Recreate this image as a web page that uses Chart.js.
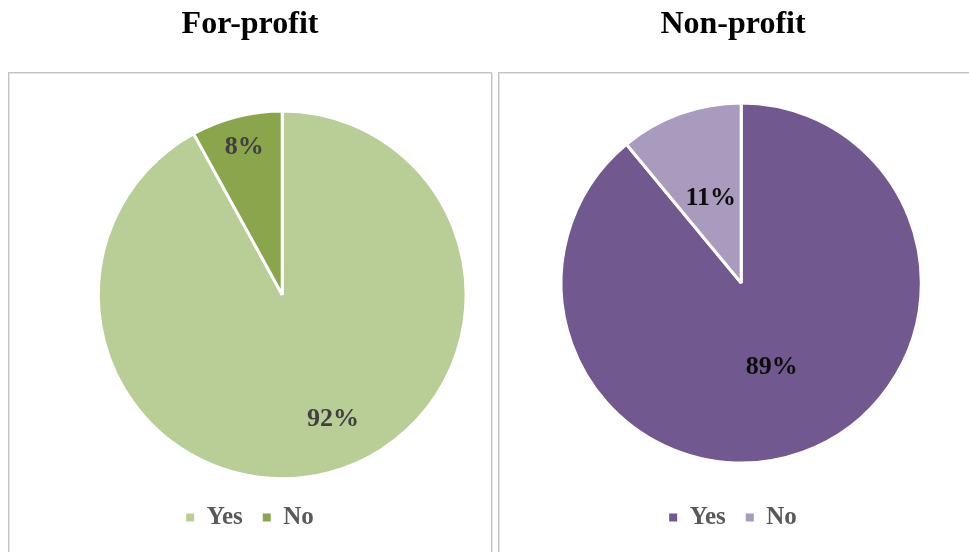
<!DOCTYPE html>
<html>
<head>
<meta charset="utf-8">
<script src="https://cdn.jsdelivr.net/npm/chart.js@4/dist/chart.umd.min.js"></script>
<style>
  html, body { margin: 0; padding: 0; background: #fff; width: 969px; height: 552px; overflow: hidden; position: relative; }
  .panel { position: absolute; top: 72px; height: 520px; border: 1px solid #c4c4c4; box-shadow: inset 1px 1px 0 #e4e4e4, 1px 1px 0 #e4e4e4; background: #fff; }
  .wrap { position: absolute; top: 0; }
</style>
</head>
<body>
<div class="panel" style="left:8px; width:482px;"></div>
<div class="panel" style="left:498px; width:480px;"></div>
<div class="wrap" style="left:0px; width:500px; height:540px;"><canvas id="c1"></canvas></div>
<div class="wrap" style="left:496px; width:474px; height:540px;"><canvas id="c2"></canvas></div>
<script>
const categories = ['Yes', 'No'];
const forProfitValues = [92, 8];
const nonProfitValues = [89, 11];
const chartTitles = ['For-profit', 'Non-profit'];
const forProfitColors = ['#b9cd96', '#8ba54c'];
const nonProfitColors = ['#71588f', '#a99bbd'];

const sliceLabels = {
  id: 'sliceLabels',
  afterDatasetsDraw(chart, args, opts) {
    const ctx = chart.ctx;
    const ds = chart.data.datasets[0];
    const total = ds.data.reduce((a, b) => a + b, 0);
    const meta = chart.getDatasetMeta(0);
    ctx.save();
    ctx.font = opts.font;
    ctx.fillStyle = opts.color;
    ctx.textAlign = 'center';
    ctx.textBaseline = 'middle';
    meta.data.forEach((arc, i) => {
      const p = arc.getProps(['x', 'y', 'startAngle', 'endAngle', 'outerRadius'], true);
      const pos = opts.pos[i];
      const mid = (p.startAngle + p.endAngle) / 2 + pos.da * Math.PI / 180;
      const r = p.outerRadius * pos.r;
      const txt = Math.round(ds.data[i] / total * 100) + '%';
      ctx.fillText(txt, p.x + Math.cos(mid) * r, p.y + Math.sin(mid) * r);
    });
    ctx.restore();
  }
};

function makeChart(id, title, values, colors, cfg) {
  return new Chart(document.getElementById(id), {
    type: 'pie',
    data: {
      labels: categories,
      datasets: [{ data: values, backgroundColor: colors, borderColor: '#ffffff', borderWidth: 3 }]
    },
    options: {
      responsive: true,
      maintainAspectRatio: false,
      animation: false,
      layout: { padding: { top: 0, left: 0, right: 0, bottom: 0 } },
      plugins: {
        tooltip: { enabled: false },
        title: {
          display: true,
          text: title,
          color: '#000000',
          font: { family: '"Liberation Serif", "Times New Roman", serif', size: 32, weight: 'bold' },
          padding: { top: 6, bottom: cfg.titleBottom }
        },
        subtitle: {
          display: true,
          position: 'left',
          text: ' ',
          font: { size: 12 },
          padding: { top: cfg.shift / 2, bottom: cfg.shift / 2 }
        },
        legend: {
          display: true,
          position: 'bottom',
          title: { display: true, text: ' ', font: { size: 2 }, padding: cfg.legendGap },
          labels: {
            boxWidth: 8,
            boxHeight: 8,
            padding: 20,
            color: '#595959',
            font: { family: '"Liberation Serif", "Times New Roman", serif', size: 25, weight: 'bold' },
            generateLabels(chart) {
              const items = Chart.overrides.pie.plugins.legend.labels.generateLabels(chart);
              items.forEach(it => { it.lineWidth = 0; it.strokeStyle = 'rgba(0,0,0,0)'; });
              return items;
            }
          }
        },
        sliceLabels: {
          font: 'bold 26px "Liberation Serif", "Times New Roman", serif',
          color: cfg.labelColor,
          pos: cfg.pos
        }
      }
    },
    plugins: [sliceLabels]
  });
}

makeChart('c1', chartTitles[0], forProfitValues, forProfitColors, {
  titleBottom: 65, shift: 50, legendGap: 1.2, labelColor: '#404040',
  pos: [{ r: 0.73, da: -7.8 }, { r: 0.83, da: 0 }]
});
makeChart('c2', chartTitles[1], nonProfitValues, nonProfitColors, {
  titleBottom: 57, shift: 2, legendGap: 9, labelColor: '#0d0d0d',
  pos: [{ r: 0.5, da: 0 }, { r: 0.5, da: 0 }]
});
</script>
</body>
</html>
